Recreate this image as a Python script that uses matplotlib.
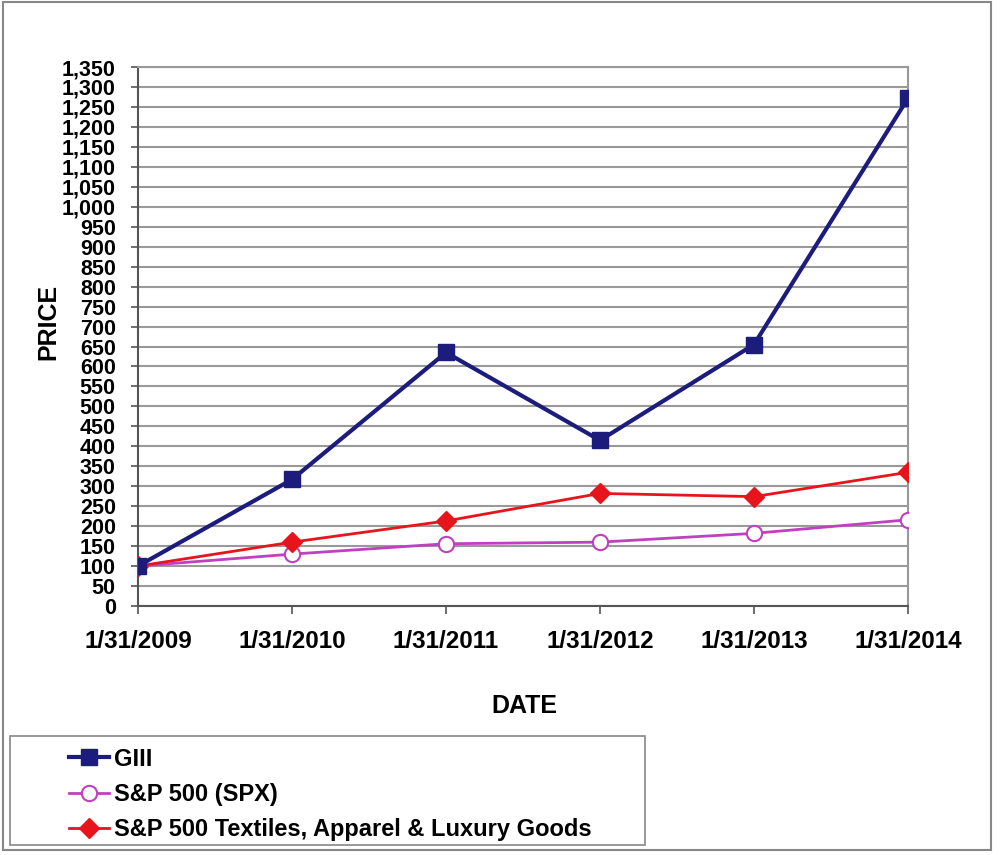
import matplotlib
matplotlib.use("Agg")
from matplotlib import pyplot as plt
from matplotlib.patches import Rectangle
import numpy as np

dates = ["1/31/2009", "1/31/2010", "1/31/2011", "1/31/2012", "1/31/2013", "1/31/2014"]
giii = [100, 317, 635, 415, 655, 1272]
spx = [100, 130, 156, 160, 182, 216]
textiles = [100, 160, 213, 282, 274, 335]
yticks = list(range(0, 1351, 50))

plt.rcParams['font.family'] = ['Liberation Sans', 'DejaVu Sans']

fig = plt.figure(figsize=(10, 8.55), dpi=100)
ax = fig.add_axes([0.138, 0.2912, 0.770, 0.6304])

x = np.arange(len(dates))
ax.plot(x, giii, color='#1c1c7c', lw=3, marker='s', ms=12, label='GIII', zorder=4)
ax.plot(x, spx, color='#c040c0', lw=2, marker='o', ms=11, mfc='white', mec='#c040c0',
        mew=1.5, label='S&P 500 (SPX)', zorder=3)
ax.plot(x, textiles, color='#e8141c', lw=2, marker='D', ms=10,
        label='S&P 500 Textiles, Apparel & Luxury Goods', zorder=3)

ax.set_xlim(0, 5)
ax.set_ylim(0, 1350)
ax.set_yticks(yticks)
ax.set_yticklabels([f"{v:,}" for v in yticks], fontsize=15.5, fontweight='bold')
ax.set_xticks(x)
ax.set_xticklabels(dates, fontsize=17.5, fontweight='bold')
ax.tick_params(axis='y', length=5, width=1.2, color='#555555', pad=11)
ax.tick_params(axis='x', length=6, width=1.2, color='#555555', pad=11)
ax.yaxis.grid(True, color='#999999', lw=1.5)
ax.set_axisbelow(True)
for s in ['top', 'right']:
    ax.spines[s].set_color('#999999')
    ax.spines[s].set_linewidth(1.5)
for s in ['left', 'bottom']:
    ax.spines[s].set_color('#555555')
    ax.spines[s].set_linewidth(1.5)

ax.set_ylabel('PRICE', fontsize=18, fontweight='bold', va='center')
ax.yaxis.set_label_coords(-0.117, 0.527)
fig.text(0.524, 1 - 706 / 855, 'DATE', fontsize=18, fontweight='bold', ha='center', va='center')

# legend: box drawn separately, entries inset like the original
leg = fig.legend(loc='upper left', bbox_to_anchor=(0.064, 1 - 743 / 855), frameon=False,
                 prop={'weight': 'bold', 'size': 17}, handlelength=1.7, borderaxespad=0,
                 labelspacing=0.52, borderpad=0.2, handletextpad=0.2)
fig.patches.append(Rectangle((0.010, 1 - 845 / 855), 0.635, 109 / 855, transform=fig.transFigure,
                             fill=False, edgecolor='#888888', lw=1.2))

# outer frame
fig.patches.append(Rectangle((0.003, 0.006), 0.988, 0.992, transform=fig.transFigure,
                             fill=False, edgecolor='#888888', lw=1.5))

fig.savefig('out.png', dpi=100)
